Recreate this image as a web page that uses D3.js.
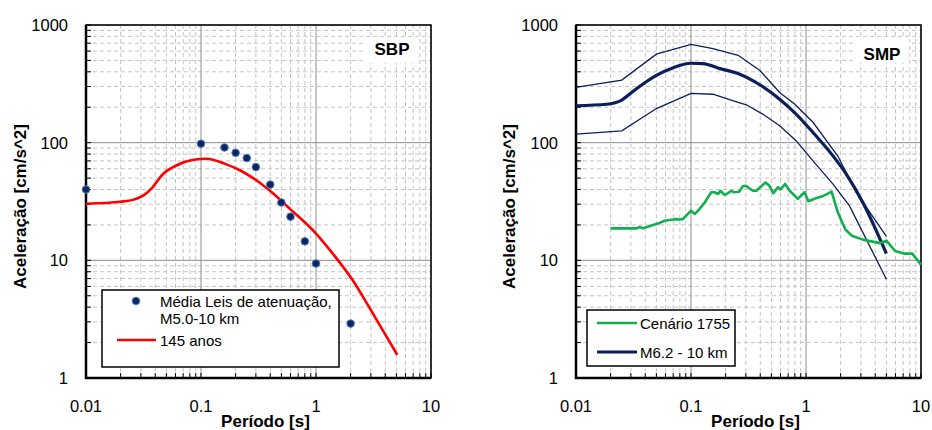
<!DOCTYPE html>
<html>
<head>
<meta charset="utf-8">
<script src="https://cdn.jsdelivr.net/npm/d3@7"></script>
<style>
  body { margin: 0; background: #fff; }
  svg { display: block; font-family: Arial, "Liberation Sans", sans-serif; }
</style>
</head>
<body>
<svg id="chart" width="932" height="430"></svg>
<script>
// SBP panel - mean of attenuation laws (dots)
const mediaPeriods = [0.01, 0.1, 0.16, 0.2, 0.25, 0.3, 0.4, 0.5, 0.6, 0.8, 1.0, 2.0];
const mediaAccel = [40, 98, 91, 82, 74, 62, 44, 31, 23.5, 14.5, 9.4, 2.9];

// SBP panel - 145 anos curve
const anosPeriods = [0.01, 0.02, 0.026, 0.0316, 0.037, 0.047, 0.061, 0.086, 0.112, 0.162, 0.22, 0.305, 0.41, 0.59, 1.0, 1.4, 2.08, 2.9, 3.8, 5.1];
const anosAccel = [30.3, 31.5, 32.8, 35.6, 40.7, 54.5, 64, 71.6, 73, 66, 58, 47.7, 38, 27.5, 16.9, 11.4, 6.8, 4.0, 2.55, 1.57];

// SMP panel - M6.2 10 km mean and bounds
const m62Periods = [0.01, 0.0185, 0.025, 0.0316, 0.05, 0.07, 0.1, 0.127, 0.178, 0.265, 0.4, 0.59, 0.82, 1.15, 1.71, 2.24, 3.12, 5.0];
const m62Mean = [206, 212, 230, 275, 373, 434, 473, 470, 426, 382, 309, 234, 175, 122, 77.6, 54, 31, 11.4];
const upperPeriods = [0.01, 0.025, 0.05, 0.1, 0.155, 0.257, 0.4, 0.59, 0.8, 1.15, 1.89, 2.73, 5.0];
const upperAccel = [295, 340, 565, 685, 630, 553, 408, 267, 212, 149, 77, 37.8, 16];
const lowerPeriods = [0.01, 0.025, 0.05, 0.1, 0.155, 0.257, 0.303, 0.42, 0.59, 0.82, 1.15, 1.71, 2.39, 5.0];
const lowerAccel = [118, 126, 195, 262, 258, 220, 210, 175, 139, 104, 70, 44.6, 29, 6.9];

// SMP panel - Cenario 1755
const cenarioPeriods = [0.02, 0.0336, 0.0358, 0.0384, 0.0468, 0.0535, 0.059, 0.07, 0.0735, 0.0797, 0.085, 0.094, 0.1, 0.108, 0.119, 0.132, 0.15, 0.16, 0.172, 0.18, 0.197, 0.225, 0.235, 0.262, 0.282, 0.3, 0.345, 0.37, 0.445, 0.48, 0.52, 0.57, 0.6, 0.66, 0.72, 0.85, 0.97, 1.05, 1.2, 1.39, 1.67, 1.89, 2.2, 2.5, 3.12, 4.4, 5.0, 5.96, 7.2, 8.4, 10];
const cenarioAccel = [18.7, 18.7, 19.2, 18.7, 20, 20.8, 21.7, 22.2, 22.4, 22.2, 22.4, 24.8, 26.4, 24.8, 27.4, 31.2, 37.9, 37.9, 36.6, 39, 35.9, 39, 37.9, 38.3, 42.6, 43, 39, 39, 46, 43, 37.3, 41.7, 40, 44.6, 39, 33.3, 37.9, 31.8, 33.5, 35, 38.3, 25.6, 18.3, 16.2, 15, 14, 14.7, 12, 11.4, 11.4, 9.2];

const xTickLabels = ["0.01", "0.1", "1", "10"];
const yTickLabels = ["1", "10", "100", "1000"];

const svg = d3.select("#chart");
svg.append("rect").attr("width", 932).attr("height", 430).attr("fill", "#fff");

const plotTop = 25, plotBottom = 378;

function drawPanel(left, right, opts) {
    const x = d3.scaleLog().domain([0.01, 10]).range([left, right]);
    const y = d3.scaleLog().domain([1, 1000]).range([plotBottom, plotTop]);
    const g = svg.append("g");

    const ticksX = x.ticks();
    const ticksY = y.ticks();
    const isMajor = v => Math.abs(Math.log10(v) - Math.round(Math.log10(v))) < 1e-6;

    // minor grid (dashed)
    g.selectAll("line.mgx").data(ticksX.filter(v => !isMajor(v))).enter().append("line")
        .attr("x1", d => x(d)).attr("x2", d => x(d)).attr("y1", plotTop).attr("y2", plotBottom)
        .attr("stroke", "#c4c4c4").attr("stroke-dasharray", "4,3").attr("stroke-width", 1);
    g.selectAll("line.mgy").data(ticksY.filter(v => !isMajor(v))).enter().append("line")
        .attr("y1", d => y(d)).attr("y2", d => y(d)).attr("x1", left).attr("x2", right)
        .attr("stroke", "#c4c4c4").attr("stroke-dasharray", "4,3").attr("stroke-width", 1);
    // major grid
    g.selectAll("line.Mgx").data(ticksX.filter(isMajor)).enter().append("line")
        .attr("x1", d => x(d)).attr("x2", d => x(d)).attr("y1", plotTop).attr("y2", plotBottom)
        .attr("stroke", "#8c8c8c").attr("stroke-width", 1);
    g.selectAll("line.Mgy").data(ticksY.filter(isMajor)).enter().append("line")
        .attr("y1", d => y(d)).attr("y2", d => y(d)).attr("x1", left).attr("x2", right)
        .attr("stroke", "#8c8c8c").attr("stroke-width", 1);

    // inner ticks
    g.selectAll("line.tx").data(ticksX).enter().append("line")
        .attr("x1", d => x(d)).attr("x2", d => x(d)).attr("y1", plotBottom).attr("y2", plotBottom - 5)
        .attr("stroke", "#000").attr("stroke-width", 1);
    g.selectAll("line.ty").data(ticksY).enter().append("line")
        .attr("y1", d => y(d)).attr("y2", d => y(d)).attr("x1", left).attr("x2", left + 5)
        .attr("stroke", "#000").attr("stroke-width", 1);

    // frame
    g.append("rect").attr("x", left).attr("y", plotTop).attr("width", right - left).attr("height", plotBottom - plotTop)
        .attr("fill", "none").attr("stroke", "#000").attr("stroke-width", 1.5);
    g.append("path").attr("d", `M${left},${plotTop}V${plotBottom}H${right}`)
        .attr("fill", "none").attr("stroke", "#000").attr("stroke-width", 2.5);

    // tick labels
    g.selectAll("text.xl").data(ticksX.filter(isMajor)).enter().append("text")
        .attr("x", d => x(d)).attr("y", 412).attr("text-anchor", "middle")
        .attr("font-size", 16.5).text((d, i) => xTickLabels[i]);
    g.selectAll("text.yl").data(ticksY.filter(isMajor)).enter().append("text")
        .attr("x", left - 18).attr("y", d => y(d) + 6).attr("text-anchor", "end")
        .attr("font-size", 16.5).text((d, i) => yTickLabels[i]);

    // axis titles
    g.append("text").attr("x", (left + right) / 2 + 7).attr("y", 427).attr("text-anchor", "middle")
        .attr("font-size", 17).attr("font-weight", "bold").text("Período [s]");
    g.append("text").attr("transform", `translate(${opts.titleX},${(plotTop + plotBottom) / 2 + 5}) rotate(-90)`)
        .attr("text-anchor", "middle").attr("font-size", 17).attr("font-weight", "bold")
        .text("Aceleração [cm/s^2]");

    // site label
    g.append("rect").attr("x", right - 66).attr("y", plotTop + 12).attr("width", 54).attr("height", 26).attr("fill", "#fff");
    g.append("text").attr("x", right - 39).attr("y", plotTop + opts.labelDy).attr("text-anchor", "middle")
        .attr("font-size", 17).attr("font-weight", "bold").text(opts.label);

    return { g, x, y };
}

// ---- left panel ----
const L = drawPanel(86, 431, { titleX: 26, label: "SBP", labelDy: 30 });
const redLine = d3.line().x(d => L.x(d[0])).y(d => L.y(d[1])).curve(d3.curveMonotoneX);
L.g.append("path").datum(d3.zip(anosPeriods, anosAccel)).attr("d", redLine)
    .attr("fill", "none").attr("stroke", "#ff0000").attr("stroke-width", 2.6);
L.g.selectAll("circle.dot").data(d3.zip(mediaPeriods, mediaAccel)).enter().append("circle")
    .attr("cx", d => L.x(d[0])).attr("cy", d => L.y(d[1])).attr("r", 3.8)
    .attr("fill", "#0b2660").attr("stroke", "#4d7bbf").attr("stroke-width", 1);

// left legend
const lg = L.g.append("g");
lg.append("rect").attr("x", 102).attr("y", 290).attr("width", 237).attr("height", 77)
    .attr("fill", "#fff").attr("stroke", "#000").attr("stroke-width", 1.5);
lg.append("circle").attr("cx", 136).attr("cy", 301).attr("r", 3.8)
    .attr("fill", "#0b2660").attr("stroke", "#4d7bbf").attr("stroke-width", 1);
lg.append("text").attr("x", 160).attr("y", 307).attr("font-size", 15).text("Média Leis de atenuação,");
lg.append("text").attr("x", 160).attr("y", 324).attr("font-size", 15).text("M5.0-10 km");
lg.append("line").attr("x1", 117).attr("x2", 156).attr("y1", 340).attr("y2", 340)
    .attr("stroke", "#ff0000").attr("stroke-width", 2.6);
lg.append("text").attr("x", 160).attr("y", 346).attr("font-size", 15).text("145 anos");

// ---- right panel ----
const R = drawPanel(576, 921, { titleX: 515, label: "SMP", labelDy: 35 });
const navyLine = d3.line().x(d => R.x(d[0])).y(d => R.y(d[1]));
R.g.append("path").datum(d3.zip(upperPeriods, upperAccel)).attr("d", navyLine)
    .attr("fill", "none").attr("stroke", "#0c1f5c").attr("stroke-width", 1.3);
R.g.append("path").datum(d3.zip(lowerPeriods, lowerAccel)).attr("d", navyLine)
    .attr("fill", "none").attr("stroke", "#0c1f5c").attr("stroke-width", 1.3);
R.g.append("path").datum(d3.zip(m62Periods, m62Mean)).attr("d", navyLine.curve(d3.curveMonotoneX))
    .attr("fill", "none").attr("stroke", "#0c1f5c").attr("stroke-width", 3.2);
R.g.append("path").datum(d3.zip(cenarioPeriods, cenarioAccel)).attr("d", d3.line().x(d => R.x(d[0])).y(d => R.y(d[1])))
    .attr("fill", "none").attr("stroke", "#10b050").attr("stroke-width", 2.6).attr("stroke-linejoin", "round");

// right legend
const rg = R.g.append("g");
rg.append("rect").attr("x", 587).attr("y", 310).attr("width", 148).attr("height", 56)
    .attr("fill", "#fff").attr("stroke", "#000").attr("stroke-width", 1.5);
rg.append("line").attr("x1", 597).attr("x2", 637).attr("y1", 323).attr("y2", 323)
    .attr("stroke", "#10b050").attr("stroke-width", 2.6);
rg.append("text").attr("x", 640).attr("y", 329).attr("font-size", 15).text("Cenário 1755");
rg.append("line").attr("x1", 597).attr("x2", 637).attr("y1", 352).attr("y2", 352)
    .attr("stroke", "#0c1f5c").attr("stroke-width", 3);
rg.append("text").attr("x", 640).attr("y", 358).attr("font-size", 15).text("M6.2 - 10 km");
</script>
</body>
</html>
